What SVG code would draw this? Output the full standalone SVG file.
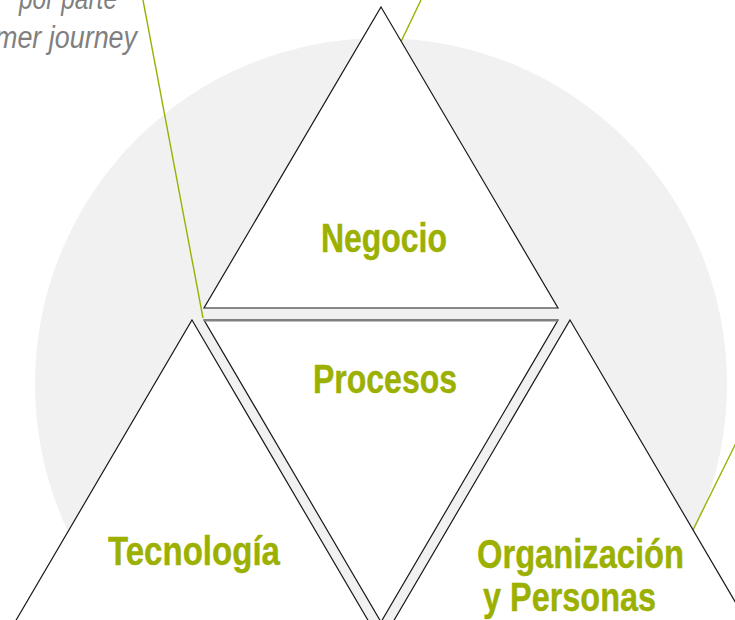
<svg xmlns="http://www.w3.org/2000/svg" width="735" height="620" viewBox="0 0 735 620">
  <style>
    .tri { fill: #ffffff; stroke: #1a1a1a; stroke-width: 1.2; stroke-linejoin: miter; }
    .lbl { font-family: "Liberation Sans", Arial, sans-serif; font-weight: bold; font-size: 40px; fill: #9bb000; stroke: #9bb000; stroke-width: 0.4; }
    .note { font-family: "Liberation Sans", Arial, sans-serif; font-style: italic; font-size: 31px; fill: #808080; }
    .lead { stroke: #9bb000; stroke-width: 1.4; fill: none; }
  </style>

  <!-- background disc -->
  <circle id="disc" cx="381" cy="384" r="346" fill="#f1f1f1"/>

  <!-- caption -->
  <g id="caption">
    <text class="note" x="117" y="9" text-anchor="end" textLength="98" lengthAdjust="spacingAndGlyphs">por parte</text>
    <text class="note" x="137" y="48" text-anchor="end" textLength="142" lengthAdjust="spacingAndGlyphs">mer journey</text>
  </g>

  <!-- leader lines -->
  <g id="connectors">
    <line class="lead" x1="143" y1="0" x2="203" y2="318"/>
    <line class="lead" x1="421" y1="0" x2="398" y2="48"/>
    <line class="lead" x1="736" y1="443" x2="688" y2="540"/>
  </g>

  <!-- Negocio -->
  <g id="negocio">
    <polygon class="tri" points="381,7 558,308 204,308"/>
    <text class="lbl" x="321" y="252" textLength="126" lengthAdjust="spacingAndGlyphs">Negocio</text>
  </g>

  <!-- Procesos (inverted) -->
  <g id="procesos">
    <polygon class="tri" points="204,320 558,320 381,622"/>
    <line x1="204" y1="320.5" x2="558" y2="320.5" stroke="#808080" stroke-width="2"/>
    <text class="lbl" x="313" y="393" textLength="144" lengthAdjust="spacingAndGlyphs">Procesos</text>
  </g>

  <!-- Tecnología -->
  <g id="tecnologia">
    <polygon class="tri" points="192,320 369,622 15,622"/>
    <text class="lbl" x="108" y="565" textLength="172" lengthAdjust="spacingAndGlyphs">Tecnología</text>
  </g>

  <!-- Organización y Personas -->
  <g id="organizacion">
    <polygon class="tri" points="570,320 747,622 393,622"/>
    <text class="lbl" x="477" y="568" textLength="207" lengthAdjust="spacingAndGlyphs">Organización</text>
    <text class="lbl" x="483" y="611" textLength="173" lengthAdjust="spacingAndGlyphs">y Personas</text>
  </g>
</svg>
